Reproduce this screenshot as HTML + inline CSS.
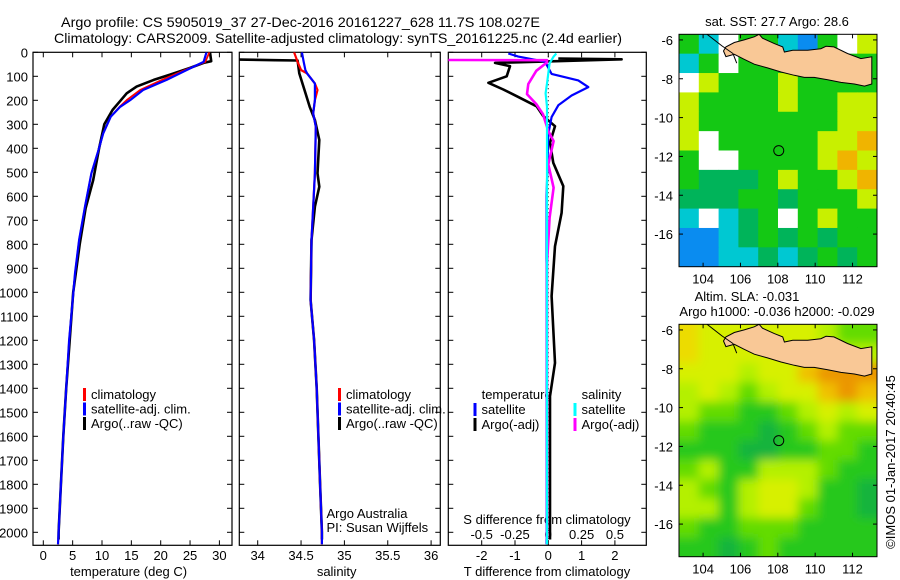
<!DOCTYPE html>
<html><head><meta charset="utf-8"><style>
html,body{margin:0;padding:0;background:#fff;}
svg{display:block;font-family:"Liberation Sans",sans-serif;}
</style></head><body>
<svg id="fig" width="900" height="580" viewBox="0 0 900 580">
<defs>
<clipPath id="c1"><rect x="33" y="52.3" width="199" height="493"/></clipPath>
<clipPath id="c2"><rect x="239.3" y="52.3" width="201" height="493"/></clipPath>
<clipPath id="c3"><rect x="448.3" y="52.3" width="198" height="493"/></clipPath>
<clipPath id="cm1"><rect x="679" y="34.3" width="198" height="232.4"/></clipPath>
<clipPath id="cm2"><rect x="679" y="324.3" width="198" height="232.4"/></clipPath>
<filter id="blur" x="-10%" y="-10%" width="120%" height="120%"><feGaussianBlur stdDeviation="5"/></filter>
</defs>
<text x="61" y="27" font-size="14" textLength="479" lengthAdjust="spacingAndGlyphs">Argo profile: CS 5905019_37 27-Dec-2016 20161227_628 11.7S 108.027E</text>
<text x="54" y="43" font-size="14" textLength="568" lengthAdjust="spacingAndGlyphs">Climatology: CARS2009. Satellite-adjusted climatology: synTS_20161225.nc (2.4d earlier)</text>
<g id="axes"></g>
<g id="marks"></g>
<g id="maps"></g>
</svg>
<script>
// ---- profile data ----
const tDepthClim = [0,40,74,115,157,199,227,268,338,407,504,643,782,921,1032,1200,1400,1600,1800,2000,2050];
const tClim = [28.3,27.6,24.1,20.2,16.5,14.2,13.0,11.5,10.2,9.4,8.2,7.1,6.1,5.4,5.0,4.4,3.9,3.4,3.0,2.6,2.5];
const tSat = [27.8,27.3,24.4,21.0,17.0,14.8,13.1,11.5,10.2,9.4,8.2,7.1,6.1,5.4,5.0,4.4,3.9,3.4,3.0,2.6,2.5];
const tDepthArgo = [0,37,44,65,93,115,143,171,206,240,300,400,532,650,800,1000,1200,1400,1600,1800,2000,2030];
const tArgo = [28.4,28.6,27.3,25.0,21.6,18.8,15.9,14.2,13.0,11.8,10.4,9.5,8.5,7.2,6.2,5.1,4.5,3.9,3.4,3.0,2.6,2.6];

const sDepthClim = [0,40,74,88,130,157,199,254,310,504,782,1032,1200,1400,1600,1800,2000,2050];
const sClim = [34.42,34.46,34.50,34.57,34.66,34.69,34.66,34.64,34.67,34.66,34.62,34.61,34.65,34.68,34.70,34.72,34.74,34.74];
const sSat = [34.51,34.53,34.55,34.57,34.66,34.66,34.66,34.64,34.67,34.66,34.62,34.61,34.65,34.68,34.70,34.72,34.74,34.74];
const sDepthArgo = [0,29,33,34,88,157,227,282,365,504,560,643,782,1032,1200,1400,1600,1800,2000,2030];
const sArgo = [33.6,33.6,34.2,34.46,34.48,34.54,34.60,34.66,34.71,34.69,34.71,34.66,34.62,34.61,34.65,34.68,34.70,34.72,34.74,34.74];

const dDepthTArgo = [26,29,44,58,100,127,155,183,225,266,308,377,461,558,669,808,1016,1294,1433,1700,2000,2030];
const dTArgo = [0.3,2.2,-1.6,-1.15,-1.25,-1.8,-1.35,-0.95,-0.35,-0.15,0.2,0.05,0.15,0.45,0.4,0.2,0.1,0.2,0.05,0.05,0.05,0.05];
const dDepthTSat = [5,18,39,90,117,145,180,221,270,340,600,1000,1500,2000,2050];
const dTSat = [-1.2,-0.9,-0.1,0.1,0.9,1.2,0.7,0.3,0.1,0.0,-0.05,-0.05,-0.05,-0.05,-0.05];
const dDepthSArgo = [32,33,42,77,132,174,216,258,328,370,467,564,689,883,1500,2000,2030];
const dSArgo = [-0.8,-0.01,-0.01,-0.09,-0.15,-0.16,-0.09,-0.04,0.0,0.04,0.0,0.04,0.01,-0.01,-0.01,-0.01,-0.01];
const dDepthSSat = [5,18,46,130,171,227,500,1000,2000,2050];
const dSSat = [0.06,0.04,0.01,-0.01,-0.02,-0.01,-0.01,-0.01,-0.01,-0.01];

const depthTicks = [0,100,200,300,400,500,600,700,800,900,1000,1100,1200,1300,1400,1500,1600,1700,1800,1900,2000];
const tTicks = [0,5,10,15,20,25,30];
const sTicks = [34,34.5,35,35.5,36];
const sTickLabels = ["34","34.5","35","35.5","36"];
const dTTicks = [-2,-1,0,1,2];
const dSTicks = [-0.5,-0.25,0,0.25,0.5];
const dSTickLabels = ["-0.5","-0.25","0","0.25","0.5"];

// ---- map data (coarse colour grids) ----
const sstRows = ["GCWGGCBGWY","CGWGGGGGGG","WYGGGYGGGG","YGGGGYGGYY","YGGGGGGGYY","YWGGGGGYYO","GWWGGGGYOY","GgggGYGGYO","gggGGgGGGY","CWCgGWGYGG","BBCgGgGgGG","BBCCgCgGgG"];
const slaRows = ["AYYYYYYyLL","AYYYYYYYyy","YYYyYYoOOO","yYyLyYYoOo","yLLGGLyYyY","LGGGDGLyLL","GGGDDGGLLG","LyGGyyyLGG","yLGyYYyGGD","yyGyYYLGGD","LGGLLLGGGG","GGDGLGGGGG"];
const latTicks = [-6,-8,-10,-12,-14,-16];
const lonTicks = [104,106,108,110,112];
const argoLon = 108.05, argoLat = -11.7;
const javaLon = [105.09,105.22,105.67,106.2,106.74,107.0,107.18,107.81,108.26,108.35,108.8,109.6,110.3,110.58,111.0,111.73,112.45,113.03,113.03,112.64,112.1,111.38,110.67,109.95,109.42,108.88,108.17,107.45,106.74,106.2,105.67,105.22];
const javaLat = [-6.57,-6.36,-6.13,-6.0,-5.84,-5.71,-5.91,-6.19,-6.36,-6.62,-6.53,-6.53,-6.45,-6.33,-6.36,-6.7,-6.96,-6.87,-8.27,-8.38,-8.27,-8.19,-8.05,-7.93,-7.93,-7.82,-7.65,-7.44,-7.25,-7.0,-6.74,-6.86];

const NS = "http://www.w3.org/2000/svg";
const axesG = document.getElementById('axes');
const marksG = document.getElementById('marks');
const mapsG = document.getElementById('maps');
function mk(tag, attrs, parent){const e=document.createElementNS(NS,tag);for(const k in attrs)e.setAttribute(k,attrs[k]);parent.appendChild(e);return e;}

const TOP=52.3, BOT=545.3;
function yD(d){return 52.3 + d*0.24;}
const xT = v => 43.3 + v*5.87;
const xS = v => 257.7 + (v-34)*86.7;
const xDT = v => 548.3 + v*33.3;
const xDS = v => 548.3 + v*133.3;

const panels = [{x:33,w:199,name:'temperature-panel'},{x:239.3,w:201,name:'salinity-panel'},{x:448.3,w:198,name:'difference-panel'}];
panels.forEach(p=>{
  const r = mk('rect',{x:p.x,y:TOP,width:p.w,height:BOT-TOP,fill:'none',stroke:'#000','stroke-width':1.2},axesG);
  
  
  depthTicks.forEach(d=>{
    mk('line',{x1:p.x,x2:p.x+5,y1:yD(d),y2:yD(d),stroke:'#000'},axesG);
    mk('line',{x1:p.x+p.w-5,x2:p.x+p.w,y1:yD(d),y2:yD(d),stroke:'#000'},axesG);
  });
});
depthTicks.forEach(d=>{
  const t = mk('text',{x:28,y:yD(d)+5,'font-size':13,'text-anchor':'end'},axesG);
  t.textContent = d;
  
  
});
function xTicks(ticks, labels, fx, ylab){
  ticks.forEach((v,i)=>{
    const x=fx(v);
    mk('line',{x1:x,x2:x,y1:TOP,y2:TOP+5,stroke:'#000'},axesG);
    mk('line',{x1:x,x2:x,y1:BOT-5,y2:BOT,stroke:'#000'},axesG);
    if(ylab){
      const t=mk('text',{x:x,y:ylab,'font-size':13,'text-anchor':'middle'},axesG);
      t.textContent = labels[i];
      
      
    }
  });
}
xTicks(tTicks, tTicks.map(String), xT, 560);
xTicks(sTicks, sTickLabels, xS, 560);
xTicks(dTTicks, dTTicks.map(String), xDT, 560);
dSTicks.forEach((v,i)=>{
  const t=mk('text',{x:xDS(v),y:539,'font-size':13,'text-anchor':'middle'},axesG);
  t.textContent = dSTickLabels[i];
  
  
});
function label(x,y,txt,name,anchor,size){
  const t=mk('text',{x:x,y:y,'font-size':size||13,'text-anchor':anchor||'start'},axesG);
  t.textContent=txt;
  
  
  return t;
}
label(128.6,576,'temperature (deg C)','x-axis-title-temperature','middle');
label(336.7,576,'salinity','x-axis-title-salinity','middle');
label(547,576,'T difference from climatology','x-axis-title-t-diff','middle');
label(547,524,'S difference from climatology','s-diff-axis-title','middle');
label(326.5,518,'Argo Australia','credit-argo-australia');
label(326.5,532,'PI: Susan Wijffels','credit-pi');

// zero line
const zl = mk('line',{x1:xDT(0),x2:xDT(0),y1:TOP,y2:BOT,stroke:'#000','stroke-dasharray':'1,3','stroke-width':1},marksG);



function series(depths, vals, fx, color, w, clip, name){
  const pts = depths.map((d,i)=>fx(vals[i]).toFixed(1)+','+yD(d).toFixed(1)).join(' ');
  const pl = mk('polyline',{points:pts,fill:'none',stroke:color,'stroke-width':w,'clip-path':'url(#'+clip+')','stroke-linejoin':'round'},marksG);
  
  
}
series(tDepthArgo,tArgo,xT,'#000',2.6,'c1','temperature-argo-line');
series(tDepthClim,tClim,xT,'#f00',1.8,'c1','temperature-climatology-line');
series(tDepthClim,tSat,xT,'#00f',2.2,'c1','temperature-satellite-line');
series(sDepthArgo,sArgo,xS,'#000',2.6,'c2','salinity-argo-line');
series(sDepthClim,sClim,xS,'#f00',2.2,'c2','salinity-climatology-line');
series(sDepthClim,sSat,xS,'#00f',2.2,'c2','salinity-satellite-line');
series(dDepthTArgo,dTArgo,xDT,'#000',2.6,'c3','t-diff-argo-line');
series(dDepthTSat,dTSat,xDT,'#00f',2.2,'c3','t-diff-satellite-line');
series(dDepthSArgo,dSArgo,xDS,'#f0f',2.6,'c3','s-diff-argo-line');
series(dDepthSSat,dSSat,xDS,'#0ff',2.2,'c3','s-diff-satellite-line');

function legendItem(mx, y, color, txt, name){
  if(color){ const r=mk('rect',{x:mx,y:y-10,width:3,height:13,fill:color},axesG);
    
     }
  label(mx+8,y+1,txt,name);
}
[[83,'#f00','climatology'],[83,'#00f','satellite-adj. clim.'],[83,'#000','Argo(..raw -QC)']].forEach((it,i)=>legendItem(it[0],398+i*14.5,it[1],it[2],'legend-temp-'+i));
[[338,'#f00','climatology'],[338,'#00f','satellite-adj. clim.'],[338,'#000','Argo(..raw -QC)']].forEach((it,i)=>legendItem(it[0],398+i*14.5,it[1],it[2],'legend-sal-'+i));
label(481.6,399,'temperature','legend-diff-temperature-heading');
label(581.6,399,'salinity','legend-diff-salinity-heading');
legendItem(473.5,413,'#00f','satellite','legend-diff-t-satellite');
legendItem(473.5,428,'#000','Argo(-adj)','legend-diff-t-argo');
legendItem(573.5,413,'#0ff','satellite','legend-diff-s-satellite');
legendItem(573.5,428,'#f0f','Argo(-adj)','legend-diff-s-argo');

// ---- maps ----
const MX=679, MW=198, MH=232.4;
const LON0=102.71, LON1=113.31, LAT0=-5.71, LAT1=-17.68;
const mxl = lon => MX + (lon-LON0)/(LON1-LON0)*MW;
const myl = (lat,top) => top + (LAT0-lat)/(LAT0-LAT1)*MH;
const sstCol = {G:'#14c814',g:'#00b45a',Y:'#c8f000',O:'#f0b400',B:'#0a8cf0',C:'#00c8d2',W:'#ffffff'};
const slaCol = {A:'#ecdc00',Y:'#d7f000',y:'#b4f000',L:'#64dc00',G:'#28c81e',D:'#14b43c',O:'#eb9600',o:'#f0c000'};

function drawMap(top, rows, cols, clip, blur, name){
  const g = mk('g',{'clip-path':'url(#'+clip+')'},mapsG);
  
  
  const inner = mk('g',blur?{filter:'url(#blur)'}:{},g);
  const nr=rows.length, nc=rows[0].length, cw=MW/nc, ch=MH/nr;
  rows.forEach((row,r)=>{ for(let c=0;c<nc;c++){
    let x=MX+c*cw, y=top+r*ch, w=cw+0.5, h=ch+0.5;
    if(blur){ if(c===0){x-=12;w+=12;} if(c===nc-1){w+=12;} if(r===0){y-=12;h+=12;} if(r===nr-1){h+=12;} }
    const cell = mk('rect',{x:x,y:y,width:w,height:h,fill:cols[row[c]]},inner);
    
    
  }});
  const pts = javaLon.map((lo,i)=>mxl(lo).toFixed(1)+','+myl(javaLat[i],top).toFixed(1)).join(' ');
  const land = mk('polygon',{points:pts,fill:'#f9c896',stroke:'#000','stroke-width':1},g);
  
  
  mk('polyline',{points:[[104.2,-5.7],[105.0,-6.3],[105.6,-6.7],[105.8,-7.2]].map(p=>mxl(p[0])+','+myl(p[1],top)).join(' '),fill:'none',stroke:'#000','stroke-width':1},g);
  const circ = mk('circle',{cx:mxl(argoLon),cy:myl(argoLat,top),r:5,fill:'none',stroke:'#000','stroke-width':1},mapsG);
  
  
  const fr = mk('rect',{x:MX,y:top,width:MW,height:MH,fill:'none',stroke:'#000','stroke-width':1},mapsG);
  
  
  latTicks.forEach(lat=>{
    const y=myl(lat,top);
    mk('line',{x1:MX,x2:MX+4,y1:y,y2:y,stroke:'#000'},mapsG);
    mk('line',{x1:MX+MW-4,x2:MX+MW,y1:y,y2:y,stroke:'#000'},mapsG);
    const t=mk('text',{x:MX-6,y:y+5,'font-size':13,'text-anchor':'end'},mapsG);
    t.textContent=lat;
    
    
  });
  lonTicks.forEach(lon=>{
    const x=mxl(lon);
    mk('line',{x1:x,x2:x,y1:top,y2:top+4,stroke:'#000'},mapsG);
    mk('line',{x1:x,x2:x,y1:top+MH-4,y2:top+MH,stroke:'#000'},mapsG);
    const t=mk('text',{x:x,y:top+MH+17,'font-size':13,'text-anchor':'middle'},mapsG);
    t.textContent=lon;
    
    
  });
}
drawMap(34.3, sstRows, sstCol, 'cm1', false, 'sst-map');
drawMap(324.3, slaRows, slaCol, 'cm2', true, 'sla-map');
label(777,26,'sat. SST: 27.7 Argo: 28.6','sst-map-title','middle');
label(747,301,'Altim. SLA: -0.031','sla-map-title','middle');
label(777,316,'Argo h1000: -0.036 h2000: -0.029','sla-map-subtitle','middle');
const cr = label(0,0,'©IMOS 01-Jan-2017 20:40:45','imos-credit','middle');
cr.setAttribute('transform','translate(895,462) rotate(-90)');
</script>
</body></html>
